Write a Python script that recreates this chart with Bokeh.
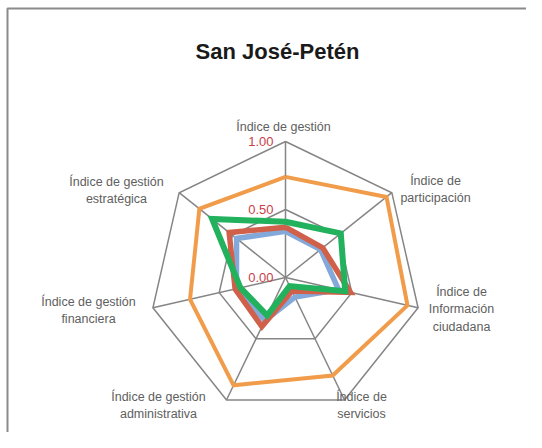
import numpy as np
from bokeh.plotting import figure
from bokeh.models import Range1d
from bokeh.core.properties import value
from bokeh.embed import file_html
from bokeh.resources import INLINE

# ---------------- data ----------------
title_text = "San José-Petén"
categories = [
    "Índice de gestión",
    "Índice de\nparticipación",
    "Índice de\nInformación\nciudadana",
    "Índice de\nservicios",
    "Índice de gestión\nadministrativa",
    "Índice de gestión\nfinanciera",
    "Índice de gestión\nestratégica",
]
serie_naranja = [0.74, 0.95, 0.92, 0.80, 0.88, 0.72, 0.81]
serie_azul = [0.34, 0.33, 0.40, 0.16, 0.35, 0.37, 0.46]
serie_roja = [0.37, 0.35, 0.49, 0.11, 0.40, 0.38, 0.53]
serie_verde = [0.41, 0.52, 0.45, 0.07, 0.31, 0.34, 0.69]
tick_values = [0.0, 0.5, 1.0]
tick_labels = ["0.00", "0.50", "1.00"]
ring_values = [0.5, 1.0]

# ---------------- layout ----------------
W, H = 526, 432
CX, CY = 285, H - 277      # chart centre (data units = pixels)
R = 136                    # radius of the 1.00 ring
VMAX = 1.0
# label centre offsets from chart centre (pixels, y downward)
label_offsets = [(-2, -151), (150, -88), (176, 32), (76, 128),
                 (-127, 128), (-197, 33), (-169, -87)]

n = len(categories)
ang = np.pi / 2 - 2 * np.pi * np.arange(n) / n


def polar(vals):
    r = np.asarray(vals, dtype=float) / VMAX * R
    xs = CX + r * np.cos(ang)
    ys = CY + r * np.sin(ang)
    return list(xs) + [xs[0]], list(ys) + [ys[0]]


p = figure(width=W, height=H, output_backend="svg", toolbar_location=None,
           x_range=Range1d(0, W), y_range=Range1d(0, H),
           x_axis_type=None, y_axis_type=None, min_border=0,
           background_fill_color="white", border_fill_color="white")
p.grid.visible = False
p.outline_line_color = None

# frame (left and top edges)
p.line(x=[7, 7, W + 20], y=[-20, H - 8, H - 8], line_color="#8a8a8a", line_width=2)

# grid rings and spokes
grid_col = "#858585"
for rv in ring_values:
    gx, gy = polar([rv] * n)
    p.line(gx, gy, line_color=grid_col, line_width=1.5, line_join="miter")
ox, oy = polar([VMAX] * n)
p.segment(x0=[CX] * n, y0=[CY] * n, x1=ox[:-1], y1=oy[:-1],
          line_color=grid_col, line_width=1.5)

# series
for vals, col, lw in [(serie_naranja, "#F09C4A", 4),
                      (serie_azul, "#83A9DB", 5.5),
                      (serie_roja, "#D0604A", 5.5),
                      (serie_verde, "#22B15C", 6)]:
    sx, sy = polar(vals)
    p.line(sx, sy, line_color=col, line_width=lw, line_join="miter")

# tick labels
p.text(x=[CX - 12] * len(tick_values), y=[CY + t / VMAX * R for t in tick_values],
       text=tick_labels, text_align="right", text_baseline="middle",
       text_font=value("Liberation Sans"), text_font_size="13px",
       text_color="#C8414B")

# category labels
p.text(x=[CX + dx for dx, dy in label_offsets],
       y=[CY - dy for dx, dy in label_offsets],
       text=categories, text_align="center", text_baseline="middle",
       text_font=value("Liberation Sans"), text_font_size="12.5px",
       text_line_height=1.22, text_color="#606060")

# title
p.text(x=[277], y=[H - 51], text=[title_text], text_align="center",
       text_baseline="middle", text_font=value("Liberation Sans"),
       text_font_style="bold", text_font_size="22px", text_color="#1a1a1a")

open("out.html", "w").write(file_html(p, INLINE))
